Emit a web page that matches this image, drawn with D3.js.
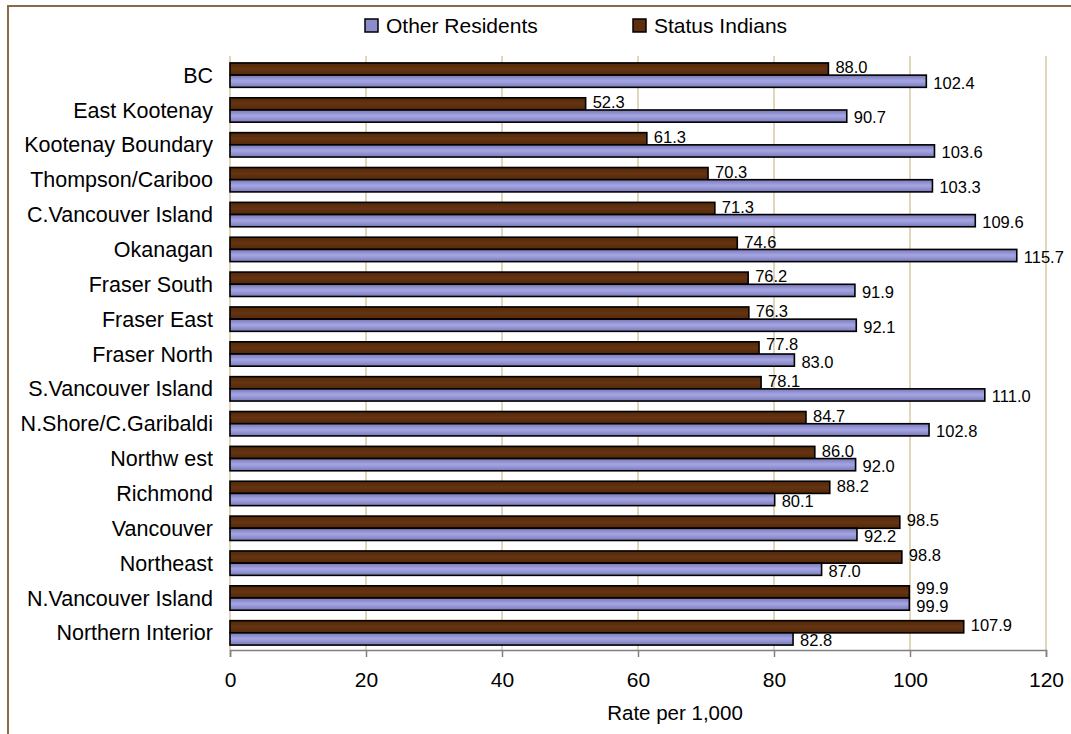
<!DOCTYPE html>
<html>
<head>
<meta charset="utf-8">
<script src="https://cdn.jsdelivr.net/npm/d3@7"></script>
<style>
body { margin: 0; background: #fff; }
text { font-family: "Liberation Sans", Arial, sans-serif; fill: #000; }
</style>
</head>
<body>
<div id="chart"></div>
<script>
var width = 1071,
height = 734;

var categories = ["BC", "East Kootenay", "Kootenay Boundary", "Thompson/Cariboo",
	"C.Vancouver Island", "Okanagan", "Fraser South", "Fraser East", "Fraser North",
	"S.Vancouver Island", "N.Shore/C.Garibaldi", "Northw est", "Richmond", "Vancouver",
	"Northeast", "N.Vancouver Island", "Northern Interior"];
var statusIndians = [88.0, 52.3, 61.3, 70.3, 71.3, 74.6, 76.2, 76.3, 77.8, 78.1, 84.7, 86.0, 88.2, 98.5, 98.8, 99.9, 107.9];
var otherResidents = [102.4, 90.7, 103.6, 103.3, 109.6, 115.7, 91.9, 92.1, 83.0, 111.0, 102.8, 92.0, 80.1, 92.2, 87.0, 99.9, 82.8];
var xTicks = [0, 20, 40, 60, 80, 100, 120];

var series = [
	{ key: "SI", name: "Status Indians", values: statusIndians, fill: "url(#gradBrown)", legend: "#5e2e0e" },
	{ key: "OR", name: "Other Residents", values: otherResidents, fill: "url(#gradPurple)", legend: "#8c8ccc" }
];

var plotLeft = 230, plotRight = 1046, plotTop = 56, plotBottom = 650;

var svg = d3.select("#chart")
.append("svg")
.attr("width", width)
.attr("height", height);

var defs = svg.append("defs");
function grad(id, stops) {
	var g = defs.append("linearGradient").attr("id", id)
	.attr("x1", 0).attr("y1", 0).attr("x2", 0).attr("y2", 1);
	stops.forEach(function(s) {
		g.append("stop").attr("offset", s[0]).attr("stop-color", s[1]);
	});
}
grad("gradPurple", [[0, "#7878b8"], [0.45, "#a4a4e2"], [0.55, "#a0a0de"], [1, "#7a7aba"]]);
grad("gradBrown", [[0, "#532808"], [0.5, "#653412"], [1, "#532808"]]);

// outer border (top and left only visible)
svg.append("path")
.attr("d", "M8," + height + "V6H" + width)
.attr("fill", "none")
.attr("stroke", "#8b6a4a")
.attr("stroke-width", 2);

var xScale = d3.scaleLinear()
.domain([0, 120])
.range([plotLeft, plotRight]);

var yScale = d3.scaleBand()
.domain(categories)
.range([plotTop, plotBottom])
.paddingInner(0.3)
.paddingOuter(0.17);

var ySub = d3.scaleBand()
.domain(["SI", "OR"])
.range([0, yScale.bandwidth()]);

// gridlines
svg.selectAll(".grid")
.data(xTicks)
.enter()
.append("line")
.attr("x1", function(d) { return xScale(d) })
.attr("x2", function(d) { return xScale(d) })
.attr("y1", plotTop)
.attr("y2", plotBottom)
.attr("stroke", "#d8c9a3")
.attr("stroke-width", 1.5);

// labels get pushed apart when the two values end close together
function labelShift(key, i) {
	var close = Math.abs(xScale(statusIndians[i]) - xScale(otherResidents[i])) < 40;
	if (key == "SI") return close ? -4 : -1.5;
	return close ? 2.5 : 1.5;
}

// bars
series.forEach(function(s) {
	svg.selectAll(".bar-" + s.key)
	.data(s.values)
	.enter()
	.append("rect")
	.attr("x", xScale(0))
	.attr("y", function(d, i) { return yScale(categories[i]) + ySub(s.key) + 1 })
	.attr("width", function(d) { return xScale(d) - xScale(0) })
	.attr("height", ySub.bandwidth())
	.attr("fill", s.fill)
	.attr("stroke", "#000")
	.attr("stroke-width", 1.6);

	svg.selectAll(".lab-" + s.key)
	.data(s.values)
	.enter()
	.append("text")
	.text(function(d) { return d.toFixed(1) })
	.attr("x", function(d) { return xScale(d) + 7 })
	.attr("y", function(d, i) {
		return yScale(categories[i]) + ySub(s.key) + 1 + ySub.bandwidth() / 2 + labelShift(s.key, i);
	})
	.attr("dy", "0.35em")
	.attr("font-size", "16.5px");
});

// category labels
svg.selectAll(".cat")
.data(categories)
.enter()
.append("text")
.text(function(d) { return d })
.attr("x", 213)
.attr("y", function(d) { return yScale(d) + yScale.bandwidth() / 2 + 1 })
.attr("dy", "0.35em")
.attr("text-anchor", "end")
.attr("font-size", "21.5px");

// x axis
var xAxis = d3.axisBottom(xScale)
.tickValues(xTicks)
.tickSize(7)
.tickPadding(15)
.tickFormat(d3.format("d"));

var gx = svg.append("g")
.attr("transform", "translate(0," + plotBottom + ")")
.call(xAxis);
gx.select(".domain").attr("stroke", "#808080").attr("stroke-width", 1.5);
gx.selectAll(".tick line").attr("stroke", "#808080").attr("stroke-width", 1.5);
gx.selectAll(".tick text")
.attr("font-size", "21px")
.attr("font-family", "Liberation Sans, Arial, sans-serif")
.attr("fill", "#000");

svg.append("text")
.text("Rate per 1,000")
.attr("x", 675)
.attr("y", 720)
.attr("text-anchor", "middle")
.attr("font-size", "20.5px");

// legend
var legendItems = [series[1], series[0]];
var legendX = [365, 633];
var legend = svg.selectAll(".legend")
.data(legendItems)
.enter()
.append("g")
.attr("transform", function(d, i) { return "translate(" + legendX[i] + ",19)" });

legend.append("rect")
.attr("width", 13)
.attr("height", 13)
.attr("fill", function(d) { return d.legend })
.attr("stroke", "#000")
.attr("stroke-width", 1.5);

legend.append("text")
.text(function(d) { return d.name })
.attr("x", 21)
.attr("y", 14)
.attr("font-size", "21px");
</script>
</body>
</html>
